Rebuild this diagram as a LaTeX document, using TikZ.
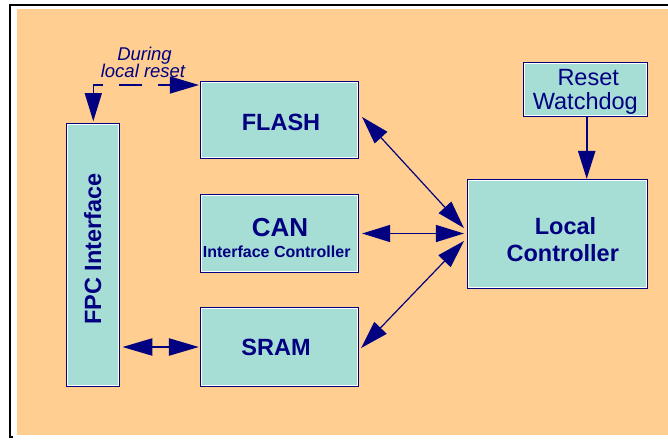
\documentclass[tikz,border=0pt]{standalone}
\usepackage{fontspec}
\setmainfont{Liberation Sans}
\usetikzlibrary{arrows.meta}
\definecolor{navy}{RGB}{0,0,128}
\definecolor{boxfill}{RGB}{166,222,214}
\definecolor{panel}{RGB}{255,206,144}

% thin white highlight just inside a block's border
\newcommand{\blockshine}[1]{%
  \draw[white, line width=0.8pt]
    ([shift={(1.6pt,1.6pt)}]#1.south west) rectangle ([shift={(-1.6pt,-1.6pt)}]#1.north east);}

\begin{document}
\begin{tikzpicture}[x=1pt, y=-1pt,
  block/.style={draw=navy, fill=boxfill, line width=2.2pt, inner sep=0pt, rectangle},
  btext/.style={text=navy, inner sep=0pt, anchor=base, font=\fontsize{23.5}{26}\selectfont\bfseries},
  rtext/.style={text=navy, inner sep=0pt, anchor=base, font=\fontsize{23.5}{26}\selectfont},
  itext/.style={text=navy, inner sep=0pt, anchor=base, font=\fontsize{18.5}{20}\selectfont\itshape},
  tip/.style={Triangle[length=28pt, width=17pt]},
  thinlink/.style={draw=navy, line width=1.2pt, {Triangle[length=28pt,width=17pt]}-{Triangle[length=28pt,width=17pt]}},
  thicklink/.style={draw=navy, line width=2.3pt},
]
\useasboundingbox (0,0) rectangle (668,439);

% page frame and panel
\fill[white] (0,0) rectangle (668,439);
\fill[panel] (17,9) rectangle (668,435);
\draw[black, line width=2pt] (668,5) -- (10,5) -- (10,437) -- (13,437);

% blocks
\node[block, minimum width=52pt, minimum height=262pt] (fpc) at (93.3,254.8) {};
\node[block, minimum width=157pt, minimum height=76pt] (flash) at (279.5,120) {};
\node[block, minimum width=157pt, minimum height=77pt] (can) at (279.5,233.5) {};
\node[block, minimum width=157pt, minimum height=78pt] (sram) at (279.5,347) {};
\node[block, minimum width=179pt, minimum height=108pt] (lc) at (557.5,234) {};
\node[block, minimum width=123pt, minimum height=53pt] (rw) at (585.5,89.5) {};
\foreach \b in {fpc,flash,can,sram,lc,rw}{\blockshine{\b}}

% block texts
\node[btext, rotate=90] (fpcText) at (101,249.2) {FPC Interface};
\node[btext] (flashText) at (281,130) {FLASH};
\node[btext, font=\fontsize{26}{28}\selectfont\bfseries] (canText) at (280,236.7) {CAN};
\node[btext, font=\fontsize{16}{18}\selectfont\bfseries] (canSub) at (276.7,257.8) {Interface Controller};
\node[btext] (sramText) at (276,355) {SRAM};
\node[btext] (lcText1) at (565.5,234.3) {Local};
\node[btext] (lcText2) at (562.8,261.7) {Controller};
\node[rtext] (rwText1) at (588.2,85) {Reset};
\node[rtext] (rwText2) at (585.3,109) {Watchdog};

% note on the reset path
\node[itext] (note1) at (144.5,60) {During};
\node[itext] (note2) at (143,77.3) {local reset};

% connectors
\draw[thicklink, -{Triangle[length=28pt,width=17pt]}]
  ([xshift=1.2pt]rw.south) -- ([xshift=1.2pt]rw.south |- lc.north);
\draw[thinlink] ([shift={(3pt,3pt)}]flash.east) -- ([shift={(-3pt,6pt)}]lc.west);
\draw[thinlink] ([xshift=3pt]can.east) -- ([xshift=-3pt]can.east -| lc.west);
\draw[thinlink] ([shift={(2pt,-1pt)}]sram.east) -- ([shift={(-3pt,-7pt)}]lc.west);
\draw[thicklink, {Triangle[length=30pt,width=17pt]}-{Triangle[length=30pt,width=17pt]}]
  ([xshift=2pt]fpc.east |- sram.west) -- ([xshift=-1pt]sram.west);
\draw[draw=navy, line width=1.3pt, dash pattern=on 23pt off 16pt, dash phase=11pt,
      {Triangle[length=29pt,width=17pt]}-{Triangle[length=28pt,width=17pt]}]
  ([shift={(-1pt,35pt)}]flash.west) -| ([yshift=1.5pt]fpc.north);
\end{tikzpicture}
\end{document}
